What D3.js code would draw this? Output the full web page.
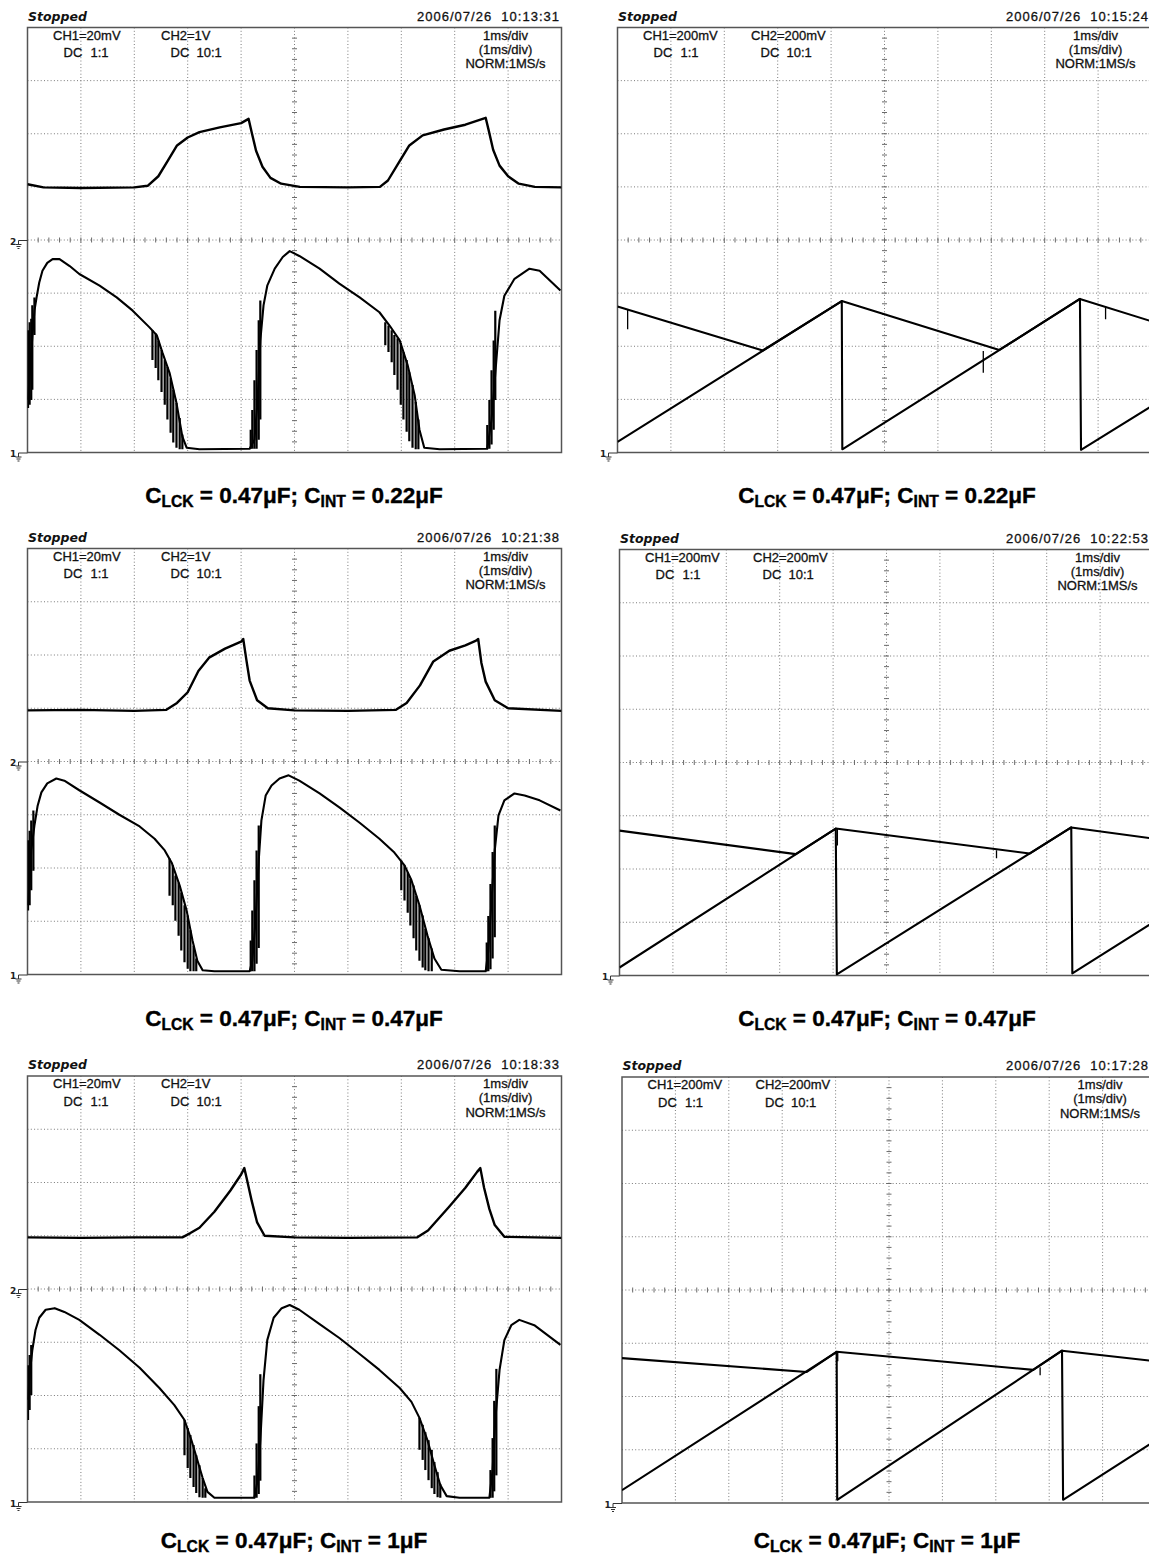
<!DOCTYPE html>
<html>
<head>
<meta charset="utf-8">
<script src="https://cdn.jsdelivr.net/npm/d3@7"></script>
<style>
  body { margin: 0; background: #fff; }
  svg { display: block; }
  .osc { font-family: "Liberation Sans", Arial, sans-serif; font-size: 13px; fill: #111; stroke: #111; stroke-width: 0.3px; }
  .stopped { font-family: "DejaVu Sans", sans-serif; font-size: 12.5px; font-style: italic; font-weight: bold; fill: #111; }
  .gnd { font-family: "DejaVu Sans", sans-serif; font-size: 9px; font-weight: bold; fill: #222; }
  .caption { font-family: "Liberation Sans", Arial, sans-serif; font-weight: bold; fill: #000; stroke: #000; stroke-width: 0.4px; }
</style>
</head>
<body>
<svg id="chart" width="1149" height="1555"></svg>
<script>
// Screen: 10 horizontal divisions at 1 ms/div, 8 vertical divisions.
const timeDivs = d3.range(0, 11);
const voltDivs = d3.range(0, 9);

// Header readouts
const timestamps = [
  "2006/07/26  10:13:31", "2006/07/26  10:15:24",
  "2006/07/26  10:21:38", "2006/07/26  10:22:53",
  "2006/07/26  10:18:33", "2006/07/26  10:17:28"
];
const ch1Readout = ["CH1=20mV", "CH1=200mV"];
const ch2Readout = ["CH2=1V", "CH2=200mV"];
const couplingReadout = ["DC", "1:1", "DC", "10:1"];
const timebaseReadout = ["1ms/div", "(1ms/div)", "NORM:1MS/s"];
const clckValue = "0.47μF";
const cintValues = ["0.22μF", "0.47μF", "1μF"];

// ---- C_INT = 0.22 µF : [ms, divisions] ----
const pulse022 = [[0,5.05],[0.3,4.99],[1.0,4.98],[2.0,4.99],[2.25,5.02],[2.45,5.2],[2.62,5.48],[2.8,5.78],[3.0,5.93],[3.22,6.03],[3.6,6.12],[4.0,6.2],[4.14,6.28],[4.2,6.02],[4.28,5.68],[4.4,5.38],[4.55,5.17],[4.75,5.06],[5.1,5.0],[6.0,4.99],[6.6,5.0],[6.75,5.12],[6.95,5.45],[7.15,5.78],[7.4,5.97],[7.8,6.08],[8.2,6.17],[8.58,6.3],[8.64,6.05],[8.72,5.7],[8.84,5.4],[9.0,5.2],[9.2,5.06],[9.5,5.0],[10,4.99]];
const drive022 = [[0.01,0.99],[0.06,1.74],[0.09,2.17],[0.13,2.67],[0.17,2.92],[0.22,3.20],[0.28,3.42],[0.37,3.57],[0.47,3.64],[0.60,3.64],[0.79,3.51],[0.97,3.36],[1.35,3.14],[1.67,2.92],[1.97,2.67],[2.28,2.36],[2.42,2.21],[2.53,1.87],[2.66,1.50],[2.79,0.93],[2.90,0.30],[2.98,0.09],[3.22,0.06],[4.16,0.07],[4.25,0.24],[4.31,0.99],[4.36,2.11],[4.42,2.77],[4.49,3.14],[4.63,3.46],[4.78,3.68],[4.91,3.79],[5.09,3.70],[5.47,3.46],[5.84,3.18],[6.22,2.92],[6.59,2.64],[6.78,2.39],[6.97,2.11],[7.12,1.64],[7.25,1.08],[7.34,0.43],[7.43,0.09],[7.72,0.06],[8.61,0.07],[8.69,0.62],[8.75,1.36],[8.84,2.49],[8.93,2.95],[9.12,3.27],[9.40,3.46],[9.59,3.42],[9.98,3.05]];
// ringing bursts: [ms, top div, bottom div]
const ring022 = [[0.01,2.30,0.84],[0.04,2.45,0.90],[0.07,2.52,0.99],[0.09,2.77,1.18],[0.13,2.92,2.21],
  [2.34,2.30,1.74],[2.40,2.24,1.59],[2.45,2.11,1.36],[2.51,1.93,1.14],[2.57,1.74,0.90],[2.62,1.61,0.62],[2.68,1.40,0.37],[2.73,1.18,0.19],[2.79,0.93,0.09],[2.85,0.65,0.06],[2.90,0.34,0.06],
  [4.18,0.07,0.43],[4.21,0.07,0.80],[4.25,0.07,1.36],[4.29,0.07,1.93],[4.33,0.24,2.49],[4.36,0.62,2.86],
  [6.70,2.45,2.02],[6.76,2.39,1.89],[6.82,2.30,1.70],[6.87,2.21,1.46],[6.93,2.15,1.18],[6.99,2.06,0.90],[7.04,1.89,0.62],[7.10,1.74,0.39],[7.15,1.51,0.21],[7.21,1.27,0.09],[7.27,0.95,0.06],[7.32,0.62,0.06],
  [8.61,0.07,0.52],[8.65,0.07,0.99],[8.69,0.15,1.55],[8.73,0.43,2.11],[8.76,0.99,2.67]];
const ramp022 = [[0,0.2],[4.2,2.85],[4.21,0.06],[8.66,2.89],[8.68,0.05],[10,0.87]];
const hold022 = [[0,2.75],[2.72,1.92],[4.2,2.85],[7.15,1.93],[8.66,2.89],[10,2.47]];
const glitch022 = [[0.19,2.70,2.32],[6.85,1.91,1.50],[9.14,2.75,2.51]];

// ---- C_INT = 0.47 µF ----
const pulse047 = [[0,4.96],[1.0,4.97],[2.0,4.95],[2.6,4.97],[2.8,5.1],[3.0,5.3],[3.2,5.7],[3.4,5.95],[3.7,6.12],[4.0,6.25],[4.04,6.3],[4.1,5.9],[4.16,5.52],[4.3,5.15],[4.5,5.0],[5.0,4.96],[6.0,4.95],[6.9,4.97],[7.1,5.1],[7.35,5.43],[7.6,5.88],[7.9,6.08],[8.2,6.18],[8.4,6.27],[8.44,6.3],[8.5,5.85],[8.58,5.5],[8.75,5.15],[9.0,5.0],[10,4.95]];
const drive047 = [[0.01,1.30],[0.04,1.77],[0.07,2.33],[0.13,2.80],[0.19,3.17],[0.26,3.42],[0.37,3.59],[0.54,3.68],[0.69,3.64],[0.97,3.46],[1.35,3.23],[1.72,3.00],[2.10,2.78],[2.38,2.55],[2.57,2.33],[2.70,2.10],[2.85,1.67],[2.98,1.20],[3.09,0.64],[3.18,0.26],[3.28,0.08],[3.50,0.06],[4.16,0.06],[4.21,0.26],[4.27,1.01],[4.33,2.14],[4.38,2.89],[4.46,3.36],[4.57,3.55],[4.72,3.68],[4.89,3.74],[5.09,3.64],[5.47,3.40],[5.84,3.14],[6.22,2.85],[6.59,2.55],[6.87,2.29],[7.06,2.05],[7.19,1.77],[7.34,1.30],[7.49,0.73],[7.62,0.30],[7.75,0.09],[8.09,0.06],[8.58,0.06],[8.63,0.45],[8.69,1.39],[8.75,2.33],[8.82,2.99],[8.93,3.27],[9.12,3.40],[9.31,3.36],[9.59,3.27],[9.98,3.08]];
const ring047 = [[0.01,2.52,1.20],[0.04,2.70,1.30],[0.07,2.89,1.58],[0.11,3.08,1.95],
  [2.66,2.18,1.48],[2.72,2.05,1.30],[2.77,1.86,1.01],[2.83,1.73,0.73],[2.88,1.54,0.45],[2.94,1.30,0.23],[3.00,1.11,0.11],[3.05,0.83,0.06],[3.11,0.54,0.06],[3.16,0.30,0.06],
  [4.18,0.06,0.64],[4.21,0.06,1.20],[4.25,0.06,1.77],[4.29,0.20,2.33],[4.33,0.50,2.80],
  [7.00,2.14,1.58],[7.06,2.05,1.39],[7.12,1.92,1.16],[7.17,1.80,0.92],[7.23,1.67,0.68],[7.28,1.48,0.45],[7.34,1.30,0.26],[7.40,1.11,0.13],[7.45,0.86,0.08],[7.51,0.68,0.06],[7.57,0.49,0.06],
  [8.60,0.06,0.60],[8.63,0.06,1.10],[8.67,0.10,1.70],[8.71,0.30,2.30],[8.75,0.70,2.80]];
const ramp047 = [[0,0.15],[4.05,2.76],[4.07,0.02],[8.46,2.78],[8.48,0.04],[10,1.0]];
const hold047 = [[0,2.72],[3.3,2.28],[4.05,2.76],[7.68,2.29],[8.46,2.78],[10,2.57]];
const glitch047 = [[4.08,2.76,2.44],[7.06,2.35,2.20]];

// ---- C_INT = 1 µF ----
const pulse1u = [[0,4.97],[1,4.96],[2,4.97],[2.9,4.97],[3.05,5.05],[3.22,5.15],[3.5,5.45],[3.8,5.85],[4.0,6.15],[4.06,6.27],[4.1,6.1],[4.2,5.65],[4.3,5.25],[4.44,5.0],[5,4.97],[6,4.96],[7.3,4.97],[7.5,5.1],[7.9,5.55],[8.2,5.9],[8.42,6.2],[8.48,6.27],[8.55,5.9],[8.65,5.5],[8.75,5.2],[8.93,4.98],[10,4.96]];
const drive1u = [[0.01,1.92],[0.04,2.39],[0.09,2.85],[0.15,3.23],[0.22,3.46],[0.34,3.61],[0.51,3.64],[0.69,3.57],[0.97,3.42],[1.35,3.14],[1.72,2.85],[2.10,2.52],[2.47,2.14],[2.75,1.82],[2.94,1.54],[3.07,1.16],[3.18,0.79],[3.28,0.45],[3.37,0.19],[3.50,0.08],[4.25,0.08],[4.31,0.41],[4.36,1.16],[4.42,2.29],[4.49,3.04],[4.61,3.46],[4.76,3.64],[4.91,3.70],[5.09,3.61],[5.47,3.34],[5.84,3.08],[6.22,2.78],[6.59,2.48],[6.97,2.14],[7.19,1.88],[7.34,1.58],[7.49,1.16],[7.62,0.69],[7.73,0.32],[7.85,0.11],[8.09,0.08],[8.65,0.08],[8.71,0.60],[8.76,1.54],[8.84,2.48],[8.93,3.04],[9.06,3.32],[9.21,3.42],[9.49,3.32],[9.98,2.95]];
const ring1u = [[0.01,2.57,1.54],[0.04,2.76,1.73],[0.07,2.95,2.01],
  [2.94,1.54,0.88],[3.00,1.39,0.64],[3.05,1.26,0.45],[3.11,1.07,0.28],[3.16,0.88,0.17],[3.22,0.69,0.09],[3.28,0.45,0.08],[3.33,0.26,0.08],
  [4.25,0.08,0.5],[4.29,0.08,1.1],[4.33,0.15,1.8],[4.36,0.4,2.4],
  [7.34,1.58,0.98],[7.40,1.45,0.79],[7.45,1.31,0.60],[7.51,1.16,0.41],[7.57,0.98,0.26],[7.62,0.75,0.15],[7.68,0.56,0.09],[7.73,0.34,0.08],
  [8.67,0.08,0.6],[8.71,0.08,1.2],[8.74,0.2,1.9],[8.78,0.5,2.5]];
const ramp1u = [[0,0.24],[4.02,2.84],[4.03,0.06],[8.24,2.86],[8.26,0.06],[10,1.18]];
const hold1u = [[0,2.72],[3.46,2.46],[4.02,2.84],[7.7,2.50],[8.24,2.86],[10,2.66]];
const glitch1u = [[4.04,2.84,2.66],[7.83,2.55,2.40]];

// ---------------- drawing ----------------
const svg = d3.select("#chart");
const W = 534;
const pageW = 1149;

const screens = [
  { x: 27.5, y: 27.5, h: 425, kind: "drive", a: pulse022, b: drive022, spikes: ring022 },
  { x: 617.5, y: 27.5, h: 425, kind: "ramp", a: hold022, b: ramp022, spikes: glitch022 },
  { x: 27.5, y: 548.5, h: 426, kind: "drive", a: pulse047, b: drive047, spikes: ring047 },
  { x: 619.5, y: 549.5, h: 426, kind: "ramp", a: hold047, b: ramp047, spikes: glitch047 },
  { x: 27.5, y: 1076, h: 426, kind: "drive", a: pulse1u, b: drive1u, spikes: ring1u },
  { x: 622, y: 1077, h: 426, kind: "ramp", a: hold1u, b: ramp1u, spikes: glitch1u }
];

function groundMark(g, yPos, label) {
  const m = g.append("g").attr("transform", `translate(0,${yPos})`);
  m.append("text").attr("class", "gnd").attr("x", -17.5).attr("y", 4.5).text(label);
  m.append("path")
    .attr("d", "M-9,0.5 H0 M-9,0.5 V4.5 M-12,4.5 H-6 M-11,6.5 H-7 M-10,8.5 H-8")
    .attr("stroke", "#333").attr("stroke-width", 1).attr("fill", "none");
}

screens.forEach((s, i) => {
  const g = svg.append("g").attr("transform", `translate(${s.x},${s.y})`);
  const x = d3.scaleLinear().domain([0, 10]).range([0, W]);
  const y = d3.scaleLinear().domain([0, 8]).range([s.h, 0]);
  const col = i % 2;

  // graticule
  const grid = g.append("g").attr("stroke", "#7a7a7a").attr("stroke-width", 1)
    .attr("stroke-dasharray", "1 2.3");
  grid.selectAll("line.v").data(timeDivs.slice(1, -1)).join("line")
    .attr("x1", d => x(d)).attr("x2", d => x(d)).attr("y1", 0).attr("y2", s.h);
  grid.selectAll("line.h").data(voltDivs.slice(1, -1)).join("line")
    .attr("class", "h")
    .attr("x1", 0).attr("x2", W).attr("y1", d => y(d)).attr("y2", d => y(d));

  // minor ticks on the centre axes (5 per division)
  const minorT = d3.range(1, 50).map(k => k / 5);
  const minorV = d3.range(1, 40).map(k => k / 5);
  const ticks = g.append("g").attr("stroke", "#6a6a6a").attr("stroke-width", 1);
  ticks.selectAll("line.tx").data(minorT).join("line").attr("class", "tx")
    .attr("x1", d => x(d)).attr("x2", d => x(d))
    .attr("y1", y(4) - 2.5).attr("y2", y(4) + 2.5);
  ticks.selectAll("line.ty").data(minorV).join("line").attr("class", "ty")
    .attr("x1", x(5) - 2.5).attr("x2", x(5) + 2.5)
    .attr("y1", d => y(d)).attr("y2", d => y(d));

  // border
  g.append("rect").attr("x", 0).attr("y", 0).attr("width", W).attr("height", s.h)
    .attr("fill", "none").attr("stroke", "#555").attr("stroke-width", 1.5);

  // ground reference markers
  if (s.kind === "drive") groundMark(g, y(4), "2");
  groundMark(g, y(0), "1");

  // readouts
  const t = (tx, ty, str, anchor) => g.append("text").attr("class", "osc")
    .attr("x", tx).attr("y", ty).attr("text-anchor", anchor || "start").text(str);
  g.append("text").attr("class", "stopped").attr("x", 0.5).attr("y", -7).text("Stopped");
  const stampRight = Math.min(W - 2.5, pageW - 1 - s.x);
  g.append("text").attr("class", "osc").attr("x", stampRight).attr("y", -7)
    .attr("text-anchor", "end").attr("textLength", 142).attr("lengthAdjust", "spacing")
    .style("white-space", "pre").text(timestamps[i]);
  t(25.5, 12, ch1Readout[col]);
  t(133.5, 12, ch2Readout[col]);
  t(36, 29.5, couplingReadout[0]);
  t(63, 29.5, couplingReadout[1]);
  t(143, 29.5, couplingReadout[2]);
  t(169, 29.5, couplingReadout[3]);
  t(478, 12, timebaseReadout[0], "middle");
  t(478, 26, timebaseReadout[1], "middle");
  t(478, 40.5, timebaseReadout[2], "middle");

  // traces
  const clipId = "clip" + i;
  g.append("clipPath").attr("id", clipId).append("rect")
    .attr("x", 0).attr("y", -1).attr("width", W).attr("height", s.h + 1);
  const tr = g.append("g").attr("clip-path", `url(#${clipId})`);
  const line = d3.line().x(d => x(d[0])).y(d => y(d[1]));
  [s.a, s.b].forEach((series, k) => {
    tr.append("path").datum(series).attr("d", line)
      .attr("fill", "none").attr("stroke", "#000")
      .attr("stroke-width", s.kind === "drive" && k === 0 ? 2.4 : 2.1)
      .attr("stroke-linejoin", "round");
  });
  tr.selectAll("line.sp").data(s.spikes).join("line").attr("class", "sp")
    .attr("x1", d => x(d[0])).attr("x2", d => x(d[0]))
    .attr("y1", d => y(d[1])).attr("y2", d => y(d[2]))
    .attr("stroke", "#000").attr("stroke-width", s.kind === "drive" ? 2.2 : 1.3);
});

// captions under each row
const captionX = [294, 887];
const captionY = [503, 1026, 1548];
const captionNodes = [];
cintValues.forEach((cint, r) => {
  captionX.forEach(cx => {
    const cap = svg.append("g").attr("transform", `translate(${cx},${captionY[r]})`);
    const txt = cap.append("text").attr("class", "caption").attr("text-anchor", "middle")
      .attr("font-size", 23);
    txt.append("tspan").text("C");
    txt.append("tspan").attr("font-size", 16).attr("dy", 3.5).text("LCK");
    txt.append("tspan").attr("font-size", 23).attr("dy", -3.5).text(" = " + clckValue + "; C");
    txt.append("tspan").attr("font-size", 16).attr("dy", 3.5).text("INT");
    txt.append("tspan").attr("font-size", 23).attr("dy", -3.5).text(" = " + cint);
    captionNodes.push({ cap, cx, cy: captionY[r], node: txt.node() });
  });
});
// condensed lettering: squeeze horizontally to the width of the first caption line
const natural = captionNodes[0].node.getComputedTextLength();
const squeeze = 298 / natural;
captionNodes.forEach(c => c.cap.attr("transform", `translate(${c.cx},${c.cy}) scale(${squeeze},1)`));
</script>
</body>
</html>
